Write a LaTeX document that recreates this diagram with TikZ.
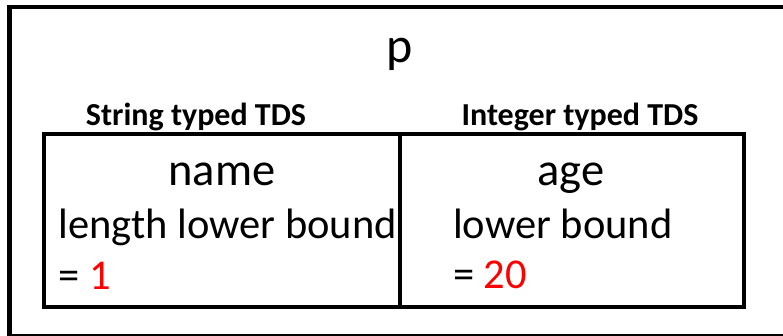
\documentclass[tikz,border=0pt]{standalone}
\usepackage{fontspec}
\setmainfont{Carlito}
\begin{document}
\begin{tikzpicture}[x=1pt,y=-1pt,
  frame/.style={draw=black,line width=4.5pt},
  tdsbox/.style={draw=black,line width=4.5pt,inner sep=0pt,minimum width=#1,minimum height=173pt},
  caption/.style={font=\fontsize{32}{36}\selectfont\bfseries,anchor=base,inner sep=0pt},
  title/.style={font=\fontsize{50}{56}\selectfont,anchor=base,inner sep=0pt},
  field/.style={font=\fontsize{46.5}{52}\selectfont,anchor=base,inner sep=0pt},
  body/.style={font=\fontsize{42.5}{48}\selectfont,anchor=base west,inner sep=0pt}]
\useasboundingbox (0,0) rectangle (783,335);
% outer object frame, running past the right and bottom edges
\begin{scope}
  \clip (0,0) rectangle (783,335);
  \draw[frame] (9.5,7) rectangle (800,336.5);
\end{scope}
\node[title] (obj) at (400,62) {p};
% the two typed data structures
\node[tdsbox=356pt] (strbox) at (222,220.5) {};
\node[tdsbox=344pt] (intbox) at (572,220.5) {};
\node[caption] (strcap) at (196,125) {String typed TDS};
\node[caption] (intcap) at (580,125) {Integer typed TDS};
% field names and their constraints
\node[field] (name) at (222,185) {name};
\node[field] (age) at (571,185) {age};
\node[body] (strbound) at (58.5,238) {length lower bound};
\node[body] (strval) at (58.5,289) {= \textcolor{red}{1}};
\node[body] (intbound) at (453,238) {lower bound};
\node[body] (intval) at (453,288) {= \textcolor{red}{20}};
\end{tikzpicture}
\end{document}
